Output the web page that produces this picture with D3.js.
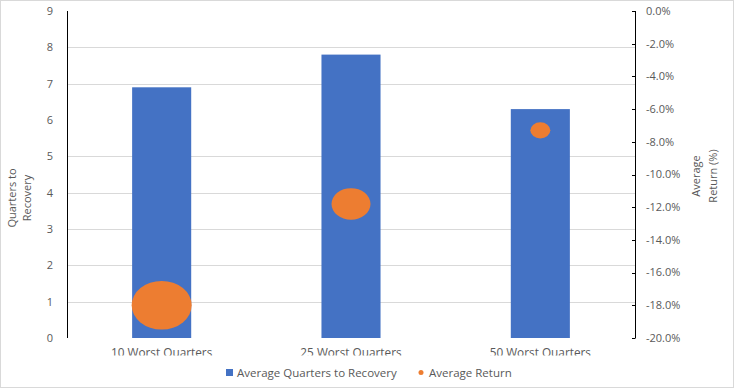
<!DOCTYPE html>
<html>
<head>
<meta charset="utf-8">
<script src="https://cdn.jsdelivr.net/npm/d3@7"></script>
<style>
  html, body { margin: 0; padding: 0; background: #fff; }
  svg { display: block; font-family: "Open Sans", "Noto Sans", sans-serif; }
</style>
</head>
<body>
<div id="chart"></div>
<script>
// ---- data ----
const categories = ["10 Worst Quarters", "25 Worst Quarters", "50 Worst Quarters"];
const quartersToRecovery = [6.9, 7.8, 6.3];
const averageReturn = [-18.0, -11.8, -7.3];
const bubbleSize = [9.0, 3.8, 1.0];
const leftTicks = [0, 1, 2, 3, 4, 5, 6, 7, 8, 9];
const rightTicks = [0, -2, -4, -6, -8, -10, -12, -14, -16, -18, -20];
const seriesNames = ["Average Quarters to Recovery", "Average Return"];

// ---- layout ----
const W = 734, H = 388;
const plotL = 67, plotR = 635, plotT = 11, plotB = 338;
const blue = "#4472C4", orange = "#ED7D31";
const textCol = "#595959", gridCol = "#d9d9d9";

const svg = d3.select("#chart").append("svg").attr("width", W).attr("height", H);

svg.append("rect").attr("x", 0.5).attr("y", 0.5).attr("width", W - 1).attr("height", H - 1)
  .attr("fill", "#fff").attr("stroke", gridCol);

const x = d3.scaleBand().domain(categories).range([plotL, plotR]).padding(0);
const yL = d3.scaleLinear().domain([0, 9]).range([plotB, plotT]);
const yR = d3.scaleLinear().domain([-20, 0]).range([plotB, plotT]);
const rScale = d3.scaleSqrt().domain([0, d3.max(bubbleSize)]).range([0, 30]);

// gridlines (as in reference)
svg.append("g").selectAll("line").data(leftTicks.filter(t => t !== 0 && t !== 9 && t !== 6))
  .join("line")
  .attr("x1", plotL).attr("x2", plotR)
  .attr("y1", d => Math.round(yL(d)) + 0.5).attr("y2", d => Math.round(yL(d)) + 0.5)
  .attr("stroke", gridCol).attr("stroke-width", 1);

// bars
const barW = x.bandwidth() * 0.312;
svg.append("g").selectAll("rect").data(categories).join("rect")
  .attr("x", d => x(d) + x.bandwidth() / 2 - barW / 2)
  .attr("width", barW)
  .attr("y", (d, i) => yL(quartersToRecovery[i]))
  .attr("height", (d, i) => yL(0) - yL(quartersToRecovery[i]))
  .attr("fill", blue);

// bubbles
svg.append("g").selectAll("ellipse").data(categories).join("ellipse")
  .attr("cx", d => x(d) + x.bandwidth() / 2)
  .attr("cy", (d, i) => yR(averageReturn[i]))
  .attr("rx", (d, i) => rScale(bubbleSize[i]))
  .attr("ry", (d, i) => rScale(bubbleSize[i]) * 0.81)
  .attr("fill", orange);

// left axis
const gL = svg.append("g");
gL.append("line").attr("x1", plotL + 0.5).attr("x2", plotL + 0.5)
  .attr("y1", plotT).attr("y2", plotB).attr("stroke", "#000").attr("stroke-width", 1);
gL.selectAll("text").data(leftTicks).join("text")
  .attr("x", 53).attr("y", d => yL(d)).attr("dy", "0.35em")
  .attr("text-anchor", "end").attr("fill", textCol).attr("font-size", 11)
  .text(d => d);

// right axis
const gR = svg.append("g");
gR.append("line").attr("x1", plotR + 0.5).attr("x2", plotR + 0.5)
  .attr("y1", plotT).attr("y2", plotB).attr("stroke", "#000").attr("stroke-width", 1);
gR.selectAll("line.tick").data(rightTicks).join("line").attr("class", "tick")
  .attr("x1", plotR - 3).attr("x2", plotR + 0.5)
  .attr("y1", d => Math.round(yR(d)) + 0.5).attr("y2", d => Math.round(yR(d)) + 0.5)
  .attr("stroke", "#000");
const fmt = d3.format(".1f");
gR.selectAll("text").data(rightTicks).join("text")
  .attr("x", 646).attr("y", d => yR(d)).attr("dy", "0.35em")
  .attr("text-anchor", "start").attr("fill", textCol).attr("font-size", 11)
  .text(d => (d < 0 ? "-" : "") + fmt(Math.abs(d)) + "%");

// axis titles
const tL = svg.append("text").attr("transform", "translate(19,198) rotate(-90)")
  .attr("text-anchor", "middle").attr("fill", textCol).attr("font-size", 11);
tL.append("tspan").attr("x", 0).attr("dy", "-0.3em").text("Quarters to");
tL.append("tspan").attr("x", 0).attr("dy", "1.4em").text("Recovery");

const tR = svg.append("text").attr("transform", "translate(704,176) rotate(-90)")
  .attr("text-anchor", "middle").attr("fill", textCol).attr("font-size", 11);
tR.append("tspan").attr("x", 0).attr("dy", "-0.4em").text("Average");
tR.append("tspan").attr("x", 0).attr("dy", "1.6em").text("Return (%)");

// category labels (clipped like the reference)
svg.append("clipPath").attr("id", "catclip").append("rect")
  .attr("x", 0).attr("y", 340).attr("width", W).attr("height", 15.5);
svg.append("g").attr("clip-path", "url(#catclip)")
  .selectAll("text").data(categories).join("text")
  .attr("x", d => x(d) + x.bandwidth() / 2).attr("y", 357)
  .attr("text-anchor", "middle").attr("fill", textCol).attr("font-size", 11.8)
  .text(d => d);

// legend
const lg = svg.append("g");
lg.append("rect").attr("x", 226).attr("y", 369).attr("width", 7).attr("height", 7).attr("fill", blue);
lg.append("text").attr("x", 237).attr("y", 373).attr("dy", "0.35em")
  .attr("fill", textCol).attr("font-size", 11.5).text(seriesNames[0]);
lg.append("circle").attr("cx", 421).attr("cy", 372.5).attr("r", 2.5).attr("fill", orange);
lg.append("text").attr("x", 429).attr("y", 373).attr("dy", "0.35em")
  .attr("fill", textCol).attr("font-size", 11.5).text(seriesNames[1]);
</script>
</body>
</html>
